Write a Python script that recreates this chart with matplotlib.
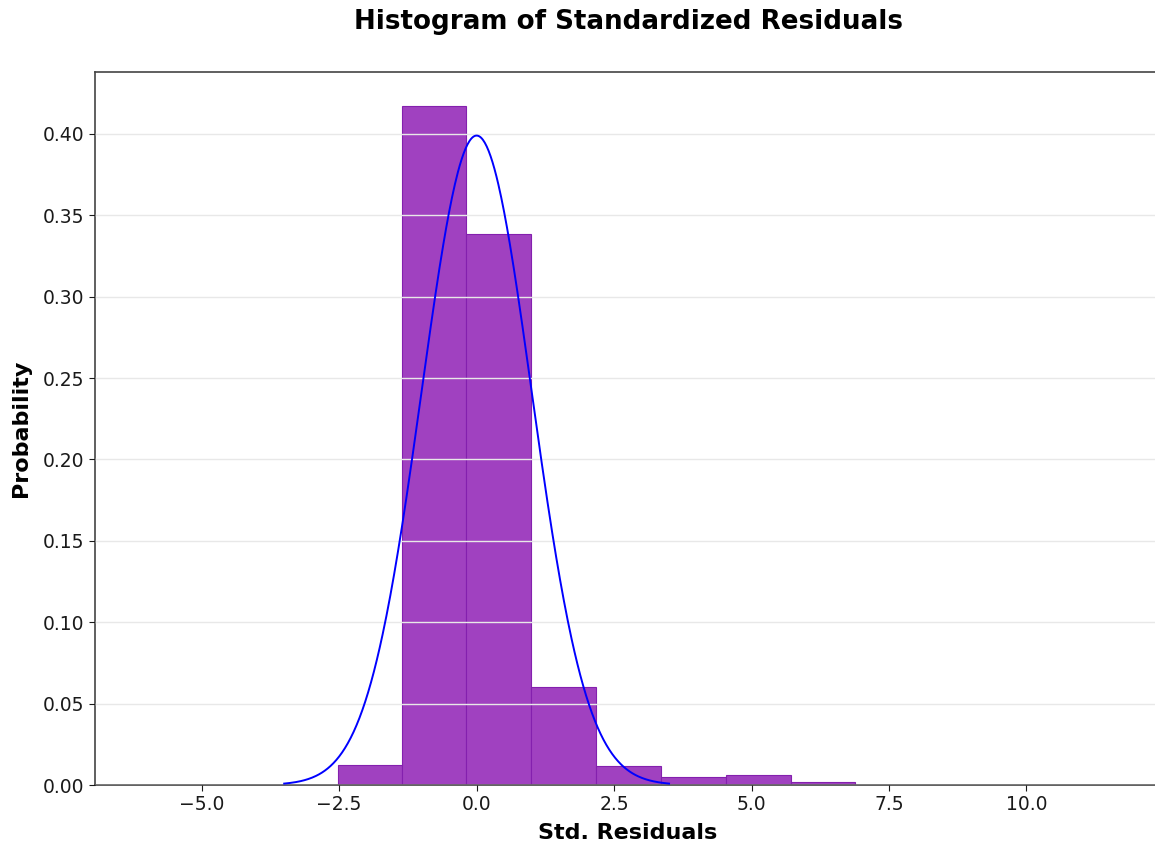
import numpy as np
import matplotlib
matplotlib.use("Agg")
import matplotlib.pyplot as plt

# histogram of standardized residuals (density)
bin_edges = [-2.53, -1.36, -0.19, 0.99, 2.17, 3.36, 4.53, 5.72, 6.89]
densities = [0.0123, 0.417, 0.3385, 0.060, 0.0117, 0.0047, 0.0060, 0.0020]

# fitted normal overlay
norm_mu = 0.0
norm_sigma = 1.0
curve_range = (-3.5, 3.5)

y_ticks = [0.00, 0.05, 0.10, 0.15, 0.20, 0.25, 0.30, 0.35, 0.40]
x_ticks = [-5.0, -2.5, 0.0, 2.5, 5.0, 7.5, 10.0]

fig = plt.figure(figsize=(11.55, 8.46), dpi=100)
ax = fig.add_axes([0.0823, 0.0721, 0.923, 0.8428])

lefts = bin_edges[:-1]
widths = np.diff(bin_edges)
ax.bar(lefts, densities, width=widths, align='edge', color='#A041C0',
       edgecolor='#8420AE', linewidth=0.8, zorder=1)

xs = np.linspace(curve_range[0], curve_range[1], 400)
pdf = np.exp(-0.5 * ((xs - norm_mu) / norm_sigma) ** 2) / (norm_sigma * np.sqrt(2 * np.pi))
ax.plot(xs, pdf, color='blue', linewidth=1.4, zorder=3)

ax.set_xlim(-6.94, 12.45)
ax.set_ylim(0, 0.438)
ax.set_xticks(x_ticks)
ax.set_yticks(y_ticks)
ax.yaxis.grid(True, color='#e8e8e8', linewidth=1.0, zorder=2)
ax.set_axisbelow(False)
ax.tick_params(axis='both', labelsize=13.5, colors='#1a1a1a', length=4)

for sp in ax.spines.values():
    sp.set_color('#444444')
    sp.set_linewidth(1.2)

ax.set_xlabel('Std. Residuals', fontsize=16, fontweight='bold', labelpad=6)
ax.set_ylabel('Probability', fontsize=16, fontweight='bold', labelpad=9)
ax.set_title('Histogram of Standardized Residuals', fontsize=18.8,
             fontweight='bold', pad=31)

fig.savefig('out.png', dpi=100)
